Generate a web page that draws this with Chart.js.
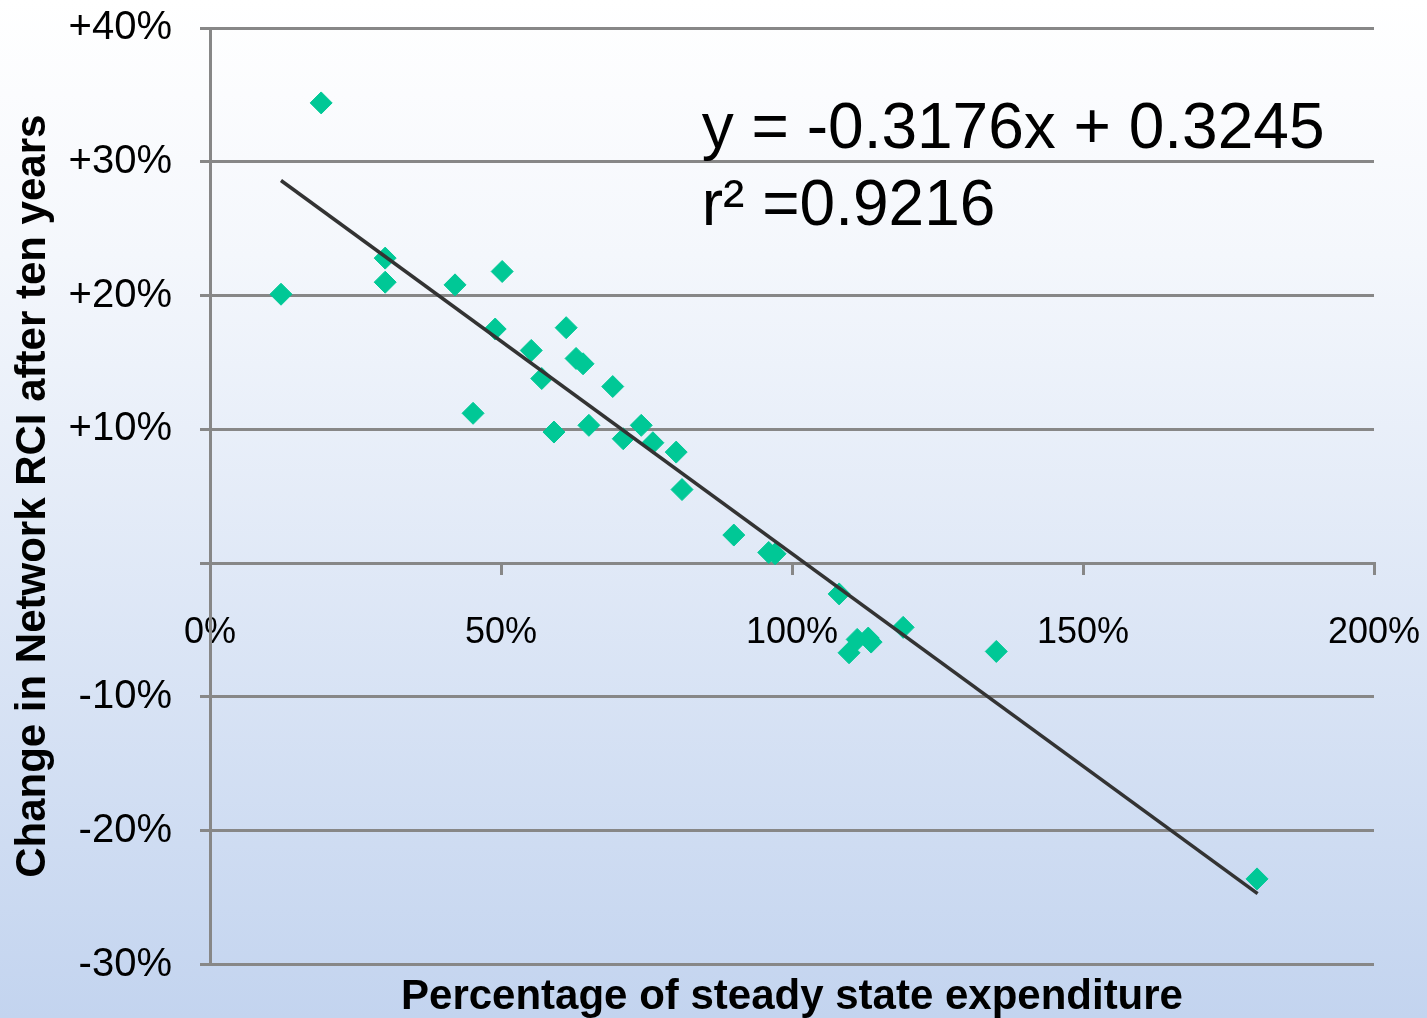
<!DOCTYPE html>
<html>
<head>
<meta charset="utf-8">
<script src="https://cdn.jsdelivr.net/npm/chart.js@4/dist/chart.umd.min.js"></script>
<style>
  html, body { margin: 0; padding: 0; }
  body { background: linear-gradient(#ffffff 0%, #f4f7fc 25%, #c3d4ef 100%); }
  #wrap { position: relative; width: 1427px; height: 1018px; }
</style>
</head>
<body>
<div id="wrap"><canvas id="chart"></canvas></div>
<script>
// share of steady state expenditure (%), change in network RCI (%)
const spendPct = [12.2, 19.1, 30.1, 30.1, 42.1, 50.2, 49.0, 45.2, 55.2, 57.0, 59.1, 61.2, 62.9, 64.1, 65.1,
  69.2, 71.0, 74.1, 76.1, 80.1, 81.1, 90.0, 96.0, 97.1, 108.1, 109.8, 111.2, 113.1, 113.6, 119.1, 135.1, 179.9];
const rciChange = [20.1, 34.4, 22.8, 21.0, 20.8, 21.8, 17.5, 11.2, 15.9, 13.8, 9.8, 17.6, 15.3, 14.9, 10.3,
  13.2, 9.3, 10.3, 9.0, 8.3, 5.5, 2.1, 0.8, 0.7, -2.3, -6.7, -5.7, -5.6, -5.9, -4.8, -6.6, -23.6];
// fitted line end points, as drawn
const trendX = [12.2, 180.0];
const trendY = [28.6, -24.7];
const yTicks = [-30, -20, -10, 0, 10, 20, 30, 40];
const xTicks = [0, 50, 100, 150, 200];
const eqLines = ["y = -0.3176x + 0.3245", "r\u00b2 =0.9216"];

const gridColor = "#878787";
const markColor = "#00c896";
const fontFamily = "'Liberation Sans', Arial, sans-serif";

const points = spendPct.map((x, i) => ({ x, y: rciChange[i] }));
const trend = trendX.map((x, i) => ({ x, y: trendY[i] }));

const equationText = {
  id: "equationText",
  afterDatasetsDraw(chart) {
    const { ctx, scales } = chart;
    const x = scales.x.getPixelForValue(84.5);
    ctx.save();
    ctx.fillStyle = "#000";
    ctx.font = "64px " + fontFamily;
    ctx.textBaseline = "alphabetic";
    ctx.fillText(eqLines[0], x, scales.y.getPixelForValue(31.0));
    ctx.fillText(eqLines[1], x, scales.y.getPixelForValue(25.3));
    ctx.restore();
  },
};

new Chart(document.getElementById("chart"), {
  type: "scatter",
  data: {
    datasets: [
      {
        type: "line",
        data: trend,
        borderColor: "#333333",
        borderWidth: 3.5,
        pointRadius: 0,
        fill: false,
        order: 0,
      },
      {
        data: points,
        pointStyle: "rectRot",
        pointRadius: 11,
        pointBackgroundColor: markColor,
        pointBorderColor: markColor,
        pointBorderWidth: 1,
        order: 1,
      },
    ],
  },
  options: {
    responsive: true,
    maintainAspectRatio: false,
    animation: false,
    layout: { padding: { top: 28, right: 53, left: 0, bottom: 0 } },
    plugins: {
      legend: { display: false },
      tooltip: { enabled: false },
      title: {
        display: true,
        position: "bottom",
        fullSize: false,
        text: "Percentage of steady state expenditure",
        color: "#000",
        font: { family: fontFamily, size: 42, weight: "bold", lineHeight: 1 },
        padding: { top: 11.5, bottom: 0 },
      },
    },
    scales: {
      x: {
        type: "linear",
        min: 0,
        max: 200,
        position: { y: 0 },
        afterBuildTicks: (s) => { s.ticks = xTicks.map((v) => ({ value: v })); },
        afterFit: (s) => { s.paddingLeft = 0; s.paddingRight = 0; },
        ticks: {
          color: "#000",
          padding: 38,
          font: { family: fontFamily, size: 36 },
          callback: (v) => v + "%",
        },
        grid: { drawOnChartArea: false, drawTicks: true, tickLength: 10, color: gridColor, lineWidth: 3 },
        border: { display: true, color: gridColor, width: 3 },
      },
      y: {
        type: "linear",
        min: -30,
        max: 40,
        afterBuildTicks: (s) => { s.ticks = yTicks.map((v) => ({ value: v })); },
        afterFit: (s) => { s.width = 210; s.paddingTop = 0; s.paddingBottom = 0; },
        ticks: {
          color: "#000",
          padding: 28,
          font: { family: fontFamily, size: 40 },
          callback: (v) => (v === 0 ? "" : (v > 0 ? "+" : "") + v + "%"),
        },
        grid: { color: gridColor, lineWidth: 3, tickLength: 10 },
        border: { display: true, color: gridColor, width: 3 },
        title: {
          display: true,
          text: "Change in Network RCI after ten years",
          color: "#000",
          font: { family: fontFamily, size: 42, weight: "bold" },
          padding: { top: 8, bottom: 0 },
        },
      },
    },
  },
  plugins: [equationText],
});
</script>
</body>
</html>
